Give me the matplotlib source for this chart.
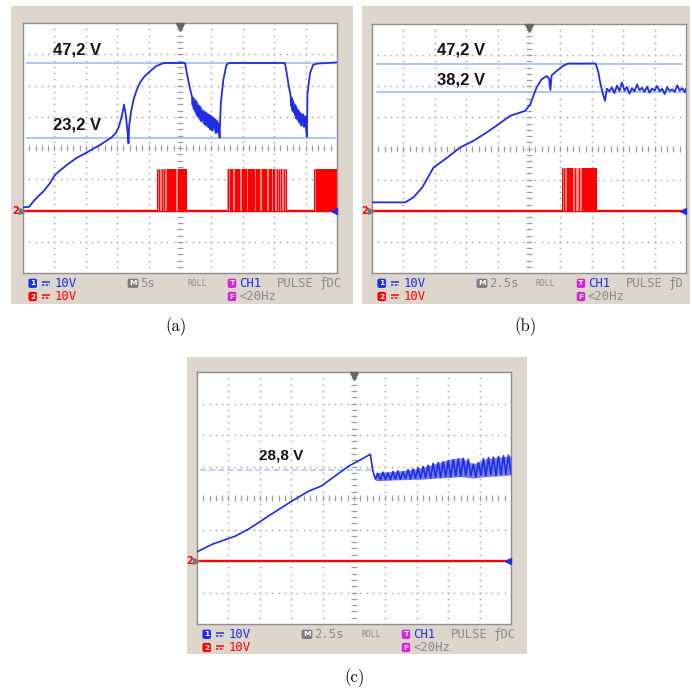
import matplotlib.pyplot as plt
from matplotlib.patches import Rectangle

# ---- data (time in s, voltage in V) ----
# panel (a): 5 s/div
a_t = [0, 1.0, 1.6, 2.4, 3.2, 4.2, 5.1, 6.0, 7.0, 8.5, 10.1, 11.2, 12.3, 13.2, 14.1, 14.8,
       15.3, 15.7, 16.1, 16.4, 16.7, 16.8, 16.9, 17.2, 17.6, 18.1, 18.6, 19.3, 20.2, 21.2,
       22.4, 25.8, 26.0, 26.3, 26.6,
       26.9, 27.0, 27.1, 27.2, 27.35, 27.5, 27.6, 27.75, 27.9, 28.0, 28.15, 28.3, 28.45,
       28.6, 28.75, 28.9, 29.05, 29.2, 29.35, 29.5, 29.65, 29.8, 29.95, 30.1, 30.25, 30.4,
       30.55, 30.7, 30.85, 31.0, 31.15, 31.3,
       31.5, 31.9, 32.4, 32.8, 41.7, 42.0, 42.3,
       42.6, 42.7, 42.8, 42.9, 43.0, 43.1, 43.2, 43.3, 43.4, 43.5, 43.6, 43.7, 43.8, 43.9,
       44.0, 44.1, 44.2, 44.3, 44.4, 44.5, 44.6, 44.7, 44.8, 44.9, 45.0, 45.1, 45.2,
       45.3, 45.7, 46.2, 46.8, 50.0]
a_v = [1.0, 1.2, 2.8, 4.5, 6.0, 8.5, 11.4, 13.0, 14.6, 16.8, 18.5, 19.8, 21.0, 22.2, 23.4, 24.8,
       27.0, 30.0, 33.9, 30.0, 24.0, 21.5, 27.0, 31.5, 35.5, 38.5, 40.8, 42.8, 44.5, 46.2,
       47.2, 47.2, 45.0, 41.8, 39.0,
       36.5, 33.8, 36.0, 32.5, 35.2, 31.6, 34.8, 30.4, 33.5, 29.8, 33.2, 28.8, 32.0,
       28.9, 31.6, 27.6, 31.4, 27.2, 30.8, 26.7, 30.6, 26.0, 30.2, 25.6, 29.8, 26.4,
       29.2, 24.8, 28.6, 25.4, 27.8, 23.3,
       34.3, 41.8, 46.6, 47.2, 47.2, 43.9, 40.0,
       37.0, 33.5, 36.0, 32.0, 35.0, 31.5, 34.0, 30.6, 33.5, 29.5, 32.4, 29.2, 32.0, 28.4,
       31.4, 28.0, 30.8, 27.2, 30.6, 28.5, 30.8, 26.8, 29.8, 27.5, 30.0, 25.5, 23.6,
       37.5, 43.9, 46.6, 47.0, 47.4]
a_band = [
    ([26.9, 27.5, 28.2, 28.9, 29.6, 30.3, 31.0, 31.25],
     [33.0, 30.5, 28.5, 27.5, 26.5, 25.5, 24.5, 24.0],
     [37.0, 35.5, 33.5, 32.0, 31.0, 30.0, 29.0, 28.0]),
    ([42.6, 43.2, 43.8, 44.4, 45.0, 45.15],
     [33.0, 30.5, 28.5, 27.5, 26.0, 25.5],
     [37.0, 34.5, 32.5, 31.0, 30.5, 29.5]),
]
a_refs = [47.2, 23.2]
a_labels = ['47,2 V', '23,2 V']
a_pulse_h = 13.2
a_burst_span = [(21.3, 26.1), (32.5, 42.0), (46.3, 49.95)]
a_burst_solid = [(22.9, 24.4), (24.7, 26.1), (32.9, 33.4), (33.7, 34.6), (34.9, 35.6),
                 (35.9, 36.9), (37.1, 37.8), (38.0, 38.9), (39.1, 39.6), (39.8, 40.1),
                 (41.1, 41.25), (46.6, 49.95)]
a_burst_lines = [21.4, 21.7, 22.1, 22.5, 32.6, 40.5, 40.8, 41.6, 41.9, 46.35]

# panel (b): 2.5 s/div
b_t = [0, 2.65, 3.3, 4.0, 4.9, 6.0, 7.0, 8.1, 9.1, 9.9, 11.0, 12.2, 12.6, 13.1, 13.5,
       13.9, 14.1, 14.2, 14.3, 14.7, 15.2, 15.6, 17.8, 18.0, 18.2, 18.4, 18.55, 18.7,
       18.9, 19.1, 19.3, 19.5, 19.7, 19.9, 20.1, 20.3, 20.5, 20.7, 20.9, 21.1, 21.3, 21.5,
       21.7, 21.9, 22.1, 22.3, 22.5, 22.7, 22.9, 23.1, 23.3, 23.5, 23.7, 23.9, 24.1, 24.3,
       24.5, 24.7, 24.9, 25.0]
b_v = [2.7, 2.7, 4.3, 7.5, 13.9, 17.1, 20.3, 22.5, 25.1, 27.3, 30.5, 32.1, 34.2, 39.6, 42.2,
       43.3, 42.5, 38.8, 43.5, 44.9, 46.5, 47.3, 47.3, 44.9, 40.6, 37.4, 35.3, 39.2,
       38.4, 39.6, 37.8, 40.2, 38.5, 41.2, 38.6, 39.8, 37.6, 39.4, 38.3, 40.6, 38.7, 39.5,
       38.2, 39.9, 37.9, 39.3, 38.6, 40.1, 38.4, 39.2, 37.5, 39.7, 38.5, 39.0, 38.2, 40.3,
       38.6, 39.4, 38.0, 39.1]
b_refs = [47.2, 38.2]
b_labels = ['47,2 V', '38,2 V']
b_pulse_h = 13.8
b_burst_span = [(15.1, 17.9)]
b_burst_solid = [(15.5, 16.0), (16.7, 17.9)]
b_burst_lines = [15.15, 15.3, 16.2, 16.45]

# panel (c): 2.5 s/div
c_t = [0, 1.2, 3.05, 4.1, 5.7, 7.55, 8.9, 9.9, 11.0, 12.1, 13.1, 13.8, 14.0, 14.2,
       14.4, 14.6, 14.8, 15.0, 15.2, 15.4, 15.6, 15.8, 16.0, 16.2, 16.4, 16.6, 16.8, 17.0,
       17.2, 17.4, 17.6, 17.8, 18.0, 18.2, 18.4, 18.6, 18.8, 19.0, 19.2, 19.4, 19.6, 19.8,
       20.0, 20.2, 20.4, 20.6, 20.8, 21.0, 21.2, 21.4, 21.6, 21.8, 22.0, 22.2, 22.4, 22.6,
       22.8, 23.0, 23.2, 23.4, 23.6, 23.8, 24.0, 24.2, 24.4, 24.6, 24.8, 25.0]
c_v = [2.9, 5.3, 7.9, 10.1, 14.3, 19.0, 22.2, 23.8, 27.0, 30.2, 32.3, 33.9, 28.6, 26.0,
       27.8, 25.7, 28.2, 25.9, 27.9, 25.8, 28.4, 26.0, 28.6, 25.9, 28.3, 26.1, 29.0, 26.0,
       29.2, 26.3, 29.6, 26.2, 30.0, 26.4, 30.4, 26.3, 31.0, 26.6, 31.2, 26.5, 31.5, 26.8,
       31.8, 26.7, 32.2, 27.0, 32.4, 26.9, 32.6, 27.1, 32.3, 27.0, 30.8, 26.6, 31.2, 27.2,
       32.5, 27.0, 32.8, 27.4, 33.0, 27.2, 33.2, 27.5, 33.4, 27.6, 33.6, 27.8]
c_band = [
    ([14.2, 15, 16, 17, 18, 19, 20, 21, 22, 23, 24, 25],
     [25.5, 25.6, 25.8, 25.9, 26.0, 26.3, 26.5, 26.8, 26.3, 26.8, 27.0, 27.3],
     [28.0, 28.3, 28.6, 29.0, 29.8, 31.0, 32.2, 32.8, 30.8, 32.5, 33.0, 33.4]),
]
c_refs = [28.8]
c_labels = ['28,8 V']

W, H = 692, 691
BEIGE = '#ddd6cc'
BLUE = '#1f2ee4'
RED = '#ff0000'
LIGHTRED = '#ff8c8c'
REFBLUE = '#a6c2f2'
GRAY = '#8a8a8a'
MAGENTA = '#e01ee0'
MONO = 'DejaVu Sans Mono'
LABEL = dict(fontweight='bold', family='Liberation Sans', va='center', color='#141414')

fig = plt.figure(figsize=(W / 100, H / 100), dpi=100)
bg = fig.add_axes([0, 0, 1, 1])
bg.set_xlim(0, W)
bg.set_ylim(H, 0)
bg.axis('off')
overlay_items = []   # things drawn over the scope screens, in pixel coords


def badge(x, y, ch, color):
    bg.text(x, y, ch, color='white', fontsize=5.4, fontweight='bold', ha='center',
            va='center', family='DejaVu Sans',
            bbox=dict(boxstyle='round,pad=0.22,rounding_size=0.25', fc=color, ec='none'))


def dc_sign(x, y, color):
    bg.plot([x, x + 8], [y - 1.6, y - 1.6], color=color, lw=1.1, solid_capstyle='butt')
    bg.plot([x, x + 8], [y + 1.6, y + 1.6], color=color, lw=1.1, ls=(0, (1.5, 1)))


def footer(gx0, gy1, tdiv_txt, last):
    r1, r2 = gy1 + 10.3, gy1 + 23.5
    badge(gx0 + 9.7, r1, '1', BLUE)
    dc_sign(gx0 + 18.5, r1, BLUE)
    bg.text(gx0 + 32, r1, '10V', color=BLUE, fontsize=8.8, family=MONO, va='center')
    badge(gx0 + 9.7, r2, '2', RED)
    dc_sign(gx0 + 18.5, r2, RED)
    bg.text(gx0 + 32, r2, '10V', color=RED, fontsize=8.8, family=MONO, va='center')
    badge(gx0 + 110, r1, 'M', '#7c7c7c')
    bg.text(gx0 + 117, r1, tdiv_txt, color=GRAY, fontsize=8.8, family=MONO, va='center')
    bg.text(gx0 + 164, r1 + 0.5, 'ROLL', color=GRAY, fontsize=5.8, family=MONO, va='center')
    badge(gx0 + 209, r1, 'T', MAGENTA)
    bg.text(gx0 + 216, r1, 'CH1', color=BLUE, fontsize=8.8, family=MONO, va='center')
    bg.text(gx0 + 254, r1, 'PULSE', color=GRAY, fontsize=8.8, family=MONO, va='center')
    bg.text(gx0 + 297, r1, last, color=GRAY, fontsize=8.8, family=MONO, va='center')
    badge(gx0 + 209, r2, 'F', MAGENTA)
    bg.text(gx0 + 216, r2, '<20Hz', color=GRAY, fontsize=8.8, family=MONO, va='center')


def scope(beige, grid, tdiv, tdiv_txt, last):
    x0, y0, x1, y1 = beige
    bg.add_patch(Rectangle((x0, y0), x1 - x0, y1 - y0, fc=BEIGE, ec='none'))
    gx0, gy0, gx1, gy1 = grid
    ax = fig.add_axes([gx0 / W, 1 - gy1 / H, (gx1 - gx0) / W, (gy1 - gy0) / H])
    ax.set_xlim(0, 10 * tdiv)
    ax.set_ylim(-20, 60)
    ax.set_xticks([])
    ax.set_yticks([])
    for s in ax.spines.values():
        s.set_color('#8e8e8e')
        s.set_linewidth(1.0)
    dot = dict(ls='none', marker='s', ms=1.1, mew=0, color='#a8a8a8', zorder=0)
    for i in range(1, 10):
        ax.plot([i * tdiv] * 39, [-20 + 2 * k for k in range(1, 40)], **dot)
    for j in range(1, 8):
        ax.plot([k * tdiv / 5 for k in range(1, 50)], [-20 + 10 * j] * 49, **dot)
    ax.plot([k * tdiv / 5 for k in range(1, 50)], [20] * 49, ls='none', marker='|',
            ms=4, mew=0.8, color='#a0a0a0', zorder=0)
    ax.plot([5 * tdiv] * 39, [-20 + 2 * k for k in range(1, 40)], ls='none', marker='_',
            ms=4, mew=0.8, color='#a0a0a0', zorder=0)
    ax.plot([0.5], [0.985], transform=ax.transAxes, marker='v', ms=6, color='#666666',
            clip_on=False, zorder=5)
    ax.plot([0.992], [0.25], transform=ax.transAxes, marker='<', ms=4.5, color=BLUE,
            clip_on=False, zorder=6)
    gy = gy1 - 0.25 * (gy1 - gy0)
    overlay_items.append(('ground', gx0, gy))
    footer(gx0, gy1, tdiv_txt, last)
    return ax


def red_channel(ax, tdiv, h, spans, solids, lines):
    ax.plot([0, 10 * tdiv], [0, 0], color=RED, lw=1.7, zorder=2)
    for t0, t1 in spans:
        ax.fill_between([t0, t1], 0, h, color=LIGHTRED, lw=0, zorder=2)
    for t0, t1 in solids:
        ax.fill_between([t0, t1], 0, h, color=RED, lw=0, zorder=2)
    ax.vlines(lines, 0, h, color=RED, lw=0.8, zorder=2)


# (a)
ax_a = scope((11, 6, 353, 304), (23, 23, 337, 273), 5.0, '5s', '\u0192DC')
for r in a_refs:
    ax_a.plot([0.13 * 5, 9.94 * 5], [r, r], color=REFBLUE, lw=1.3, zorder=1)
red_channel(ax_a, 5.0, a_pulse_h, a_burst_span, a_burst_solid, a_burst_lines)
for bt, lo, hi in a_band:
    ax_a.fill_between(bt, lo, hi, color=BLUE, alpha=0.6, lw=0, zorder=3)
ax_a.plot(a_t, a_v, color=BLUE, lw=1.3, zorder=4)
overlay_items.append(('label', 53, 50, a_labels[0], 12))
overlay_items.append(('label', 53, 125, a_labels[1], 12))

# (b)
ax_b = scope((362, 6, 690, 304), (372, 24, 686, 273), 2.5, '2.5s', '\u0192D')
for r in b_refs:
    ax_b.plot([0.16 * 2.5, 9.87 * 2.5], [r, r], color=REFBLUE, lw=1.3, zorder=1)
red_channel(ax_b, 2.5, b_pulse_h, b_burst_span, b_burst_solid, b_burst_lines)
ax_b.plot(b_t, b_v, color=BLUE, lw=1.3, zorder=4)
overlay_items.append(('label', 437, 50, b_labels[0], 12))
overlay_items.append(('label', 437, 80, b_labels[1], 12))

# (c)
ax_c = scope((187, 357, 527, 654), (197, 372, 511, 624), 2.5, '2.5s', '\u0192DC')
ax_c.plot([0.1 * 2.5, 5.6 * 2.5], [c_refs[0], c_refs[0]], color=REFBLUE, lw=1.1,
          ls=(0, (4, 2)), zorder=1)
red_channel(ax_c, 2.5, 0, [], [], [])
for bt, lo, hi in c_band:
    ax_c.fill_between(bt, lo, hi, color=BLUE, alpha=0.6, lw=0, zorder=3)
ax_c.plot(c_t, c_v, color=BLUE, lw=1.2, zorder=4)
overlay_items.append(('label', 259, 455, c_labels[0], 11))

# overlay on top of the scope screens
top = fig.add_axes([0, 0, 1, 1])
top.set_xlim(0, W)
top.set_ylim(H, 0)
top.axis('off')
for item in overlay_items:
    if item[0] == 'label':
        _, x, y, s, fs = item
        top.text(x, y, s, fontsize=fs, **LABEL)
    else:
        _, gx0, gy = item
        top.text(gx0 - 7, gy, '2', color=RED, fontsize=7, fontweight='bold',
                 ha='center', va='center')
        top.plot([gx0 - 1.5], [gy], marker='>', ms=4, color='#777777')

# sub-captions
for x, y, s in [(176, 327, '(a)'), (526, 327, '(b)'), (355, 678, '(c)')]:
    top.text(x, y, s, fontsize=12, family='cmr10', ha='center', va='center')

fig.savefig('out.png', dpi=100)
